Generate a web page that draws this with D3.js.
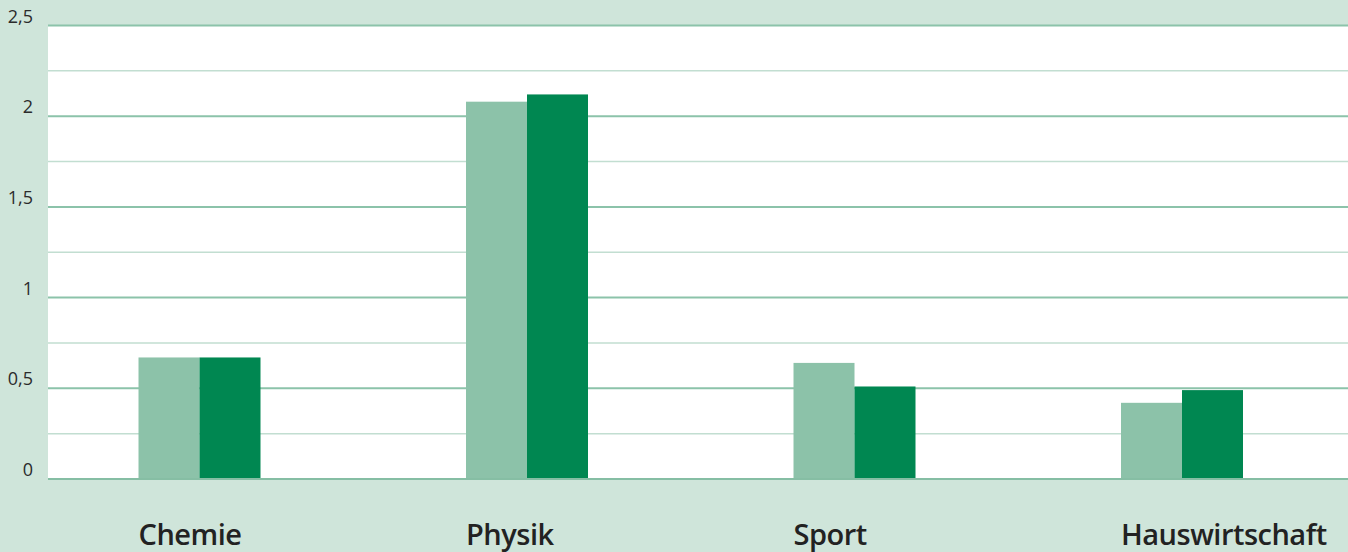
<!DOCTYPE html>
<html><head><meta charset="utf-8">
<script src="https://cdn.jsdelivr.net/npm/d3@7"></script>
<style>html,body{margin:0;padding:0;background:#cfe5da;}svg{display:block}</style>
</head><body><div id="chart"></div>
<script>
const categories = ["Chemie", "Physik", "Sport", "Hauswirtschaft"];
const seriesA = [0.67, 2.08, 0.64, 0.42];
const seriesB = [0.67, 2.12, 0.51, 0.49];
const tickValues = [0, 0.5, 1, 1.5, 2, 2.5];
const tickLabels = ["0", "0,5", "1", "1,5", "2", "2,5"];
const minorTicks = [0.25, 0.75, 1.25, 1.75, 2.25];

(function () {
const W = 1348, H = 552;
const svg = d3.select("#chart").append("svg").attr("width", W).attr("height", H);
svg.append("rect").attr("width", W).attr("height", H).attr("fill", "#cfe5da");

const plotL = 48, plotR = 1348, plotT = 25.5, plotB = 479;
const y = d3.scaleLinear().domain([0, 2.5]).range([plotB, plotT]);
const x = d3.scaleBand().domain(categories).range([35.75, 1345.75]).paddingInner(0.6275).paddingOuter(0.31375);
const xs = d3.scaleBand().domain(["a", "b"]).range([0, x.bandwidth()]);

svg.append("rect").attr("x", plotL).attr("y", plotT).attr("width", plotR - plotL).attr("height", plotB - plotT).attr("fill", "#ffffff");

svg.append("g").selectAll("line").data(minorTicks).join("line")
  .attr("x1", plotL).attr("x2", plotR)
  .attr("y1", d => y(d)).attr("y2", d => y(d))
  .attr("stroke", "#c2ded1").attr("stroke-width", 1.5);

svg.append("g").selectAll("line").data(tickValues.filter(d => d > 0)).join("line")
  .attr("x1", plotL).attr("x2", plotR)
  .attr("y1", d => y(d)).attr("y2", d => y(d))
  .attr("stroke", "#8cc3aa").attr("stroke-width", 2);

const groups = svg.append("g").selectAll("g").data(categories).join("g")
  .attr("transform", d => `translate(${x(d)},0)`);
groups.append("rect").attr("x", xs("a")).attr("width", xs.bandwidth())
  .attr("y", (d, i) => y(seriesA[i])).attr("height", (d, i) => y(0) - y(seriesA[i]))
  .attr("fill", "#8cc2a9");
groups.append("rect").attr("x", xs("b")).attr("width", xs.bandwidth())
  .attr("y", (d, i) => y(seriesB[i])).attr("height", (d, i) => y(0) - y(seriesB[i]))
  .attr("fill", "#008751");

svg.append("line").attr("x1", plotL).attr("x2", plotR)
  .attr("y1", y(0)).attr("y2", y(0))
  .attr("stroke", "#86bea4").attr("stroke-width", 2);

svg.append("g").selectAll("text").data(tickValues).join("text")
  .attr("x", 33).attr("y", d => y(d) - 3)
  .attr("text-anchor", "end")
  .attr("font-family", "'Open Sans', sans-serif").attr("font-size", 18)
  .attr("fill", "#2b2b2b")
  .text((d, i) => tickLabels[i]);

svg.append("g").selectAll("text").data(categories).join("text")
  .attr("x", d => x(d)).attr("y", 545)
  .attr("font-family", "'Open Sans', sans-serif").attr("font-size", 29).attr("font-weight", 600)
  .attr("letter-spacing", -0.5)
  .attr("fill", "#222")
  .text(d => d);
})();
</script></body></html>
